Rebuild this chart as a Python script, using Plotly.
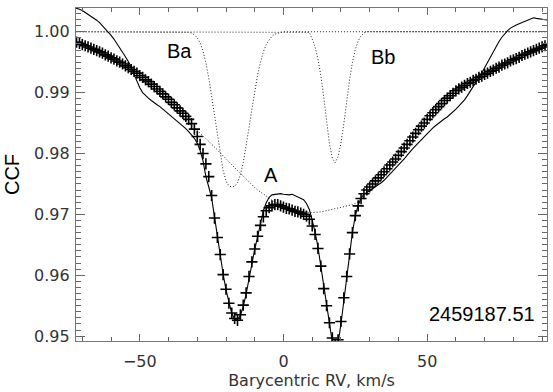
import plotly.graph_objects as go

# ---- data ----
model_rv = list(range(-72, 93))
model_ccf = [
    0.9983, 0.9981, 0.9979, 0.9977, 0.9975, 0.9973, 0.9971, 0.9969, 0.9967, 0.9965,
    0.9962, 0.9960, 0.9957, 0.9955, 0.9952, 0.9950, 0.9947, 0.9944, 0.9941, 0.9938,
    0.9935, 0.9932, 0.9928, 0.9925, 0.9921, 0.9918, 0.9914, 0.9910, 0.9906, 0.9902,
    0.9898, 0.9893, 0.9889, 0.9884, 0.9880, 0.9875, 0.9870, 0.9866, 0.9861, 0.9856,
    0.9849, 0.9840, 0.9828, 0.9815, 0.9800, 0.9783, 0.9762, 0.9731, 0.9694, 0.9662,
    0.9634, 0.9601, 0.9577, 0.9554, 0.9538, 0.9529, 0.9526, 0.9535, 0.9551, 0.9571,
    0.9598, 0.9622, 0.9643, 0.9664, 0.9682, 0.9696, 0.9706, 0.9711, 0.9714, 0.9716,
    0.9716, 0.9714, 0.9712, 0.9710, 0.9709, 0.9707, 0.9705, 0.9704, 0.9702, 0.9700,
    0.9697, 0.9692, 0.9681, 0.9667, 0.9644, 0.9615, 0.9578, 0.9550, 0.9522, 0.9497,
    0.9486, 0.9494, 0.9524, 0.9563, 0.9598, 0.9635, 0.9670, 0.9698, 0.9714, 0.9726,
    0.9734, 0.9740, 0.9745, 0.9750, 0.9755, 0.9760, 0.9765, 0.9770, 0.9775, 0.9781,
    0.9786, 0.9791, 0.9797, 0.9803, 0.9809, 0.9815, 0.9821, 0.9827, 0.9833, 0.9839,
    0.9845, 0.9850, 0.9856, 0.9862, 0.9867, 0.9872, 0.9877, 0.9882, 0.9887, 0.9891,
    0.9895, 0.9899, 0.9903, 0.9906, 0.9909, 0.9912, 0.9915, 0.9917, 0.9920, 0.9922,
    0.9925, 0.9927, 0.9930, 0.9932, 0.9935, 0.9937, 0.9940, 0.9942, 0.9945, 0.9947,
    0.9949, 0.9952, 0.9954, 0.9956, 0.9958, 0.9961, 0.9963, 0.9965, 0.9967, 0.9969,
    0.9971, 0.9973, 0.9975, 0.9977, 0.9979,
]

obs_rv = list(range(-73, 93))
obs_ccf = [
    1.0040, 1.0039, 1.0037, 1.0035, 1.0032, 1.0029, 1.0026, 1.0022, 1.0019, 1.0015,
    1.0010, 1.0004, 0.9999, 0.9994, 0.9988, 0.9981, 0.9975, 0.9967, 0.9959, 0.9951,
    0.9942, 0.9930, 0.9918, 0.9908, 0.9900, 0.9895, 0.9891, 0.9887, 0.9883, 0.9880,
    0.9877, 0.9873, 0.9870, 0.9866, 0.9862, 0.9858, 0.9854, 0.9850, 0.9845, 0.9841,
    0.9836, 0.9831, 0.9825, 0.9817, 0.9805, 0.9788, 0.9762, 0.9745, 0.9727, 0.9696,
    0.9663, 0.9632, 0.9602, 0.9576, 0.9554, 0.9537, 0.9528, 0.9527, 0.9534, 0.9549,
    0.9569, 0.9594, 0.9620, 0.9643, 0.9663, 0.9683, 0.9706, 0.9719, 0.9728, 0.9732,
    0.9733, 0.9734, 0.9734, 0.9733, 0.9732, 0.9732, 0.9733, 0.9731, 0.9729, 0.9727,
    0.9724, 0.9718, 0.9708, 0.9690, 0.9671, 0.9646, 0.9614, 0.9578, 0.9546, 0.9515,
    0.9490, 0.9478, 0.9488, 0.9520, 0.9560, 0.9598, 0.9636, 0.9671, 0.9698, 0.9715,
    0.9727, 0.9733, 0.9736, 0.9739, 0.9742, 0.9745, 0.9749, 0.9752, 0.9756, 0.9761,
    0.9766, 0.9771, 0.9776, 0.9780, 0.9785, 0.9791, 0.9797, 0.9803, 0.9808, 0.9813,
    0.9818, 0.9823, 0.9828, 0.9833, 0.9838, 0.9842, 0.9846, 0.9850, 0.9853, 0.9857,
    0.9860, 0.9864, 0.9868, 0.9873, 0.9878, 0.9883, 0.9888, 0.9895, 0.9902, 0.9910,
    0.9917, 0.9925, 0.9932, 0.9941, 0.9950, 0.9959, 0.9968, 0.9976, 0.9984, 0.9991,
    0.9997, 1.0002, 1.0006, 1.0009, 1.0011, 1.0013, 1.0015, 1.0017, 1.0020, 1.0022,
    1.0023, 1.0022, 1.0021, 1.0021, 1.0020, 1.0019,
]

ba_rv = [-72] + list(range(-34, 1)) + [92]
ba_ccf = [1.0000,
    1.0000, 0.9999, 0.9998, 0.9995, 0.9990, 0.9982, 0.9968, 0.9949, 0.9924, 0.9894,
    0.9861, 0.9828, 0.9797, 0.9772, 0.9755, 0.9747, 0.9745, 0.9746, 0.9752, 0.9765,
    0.9785, 0.9811, 0.9842, 0.9873, 0.9903, 0.9929, 0.9950, 0.9967, 0.9979, 0.9987,
    0.9993, 0.9996, 0.9998, 0.9999, 1.0000,
    1.0000]

bb_rv = [-72] + list(range(8, 30)) + [92]
bb_ccf = [1.0000,
    1.0000, 0.9999, 0.9988, 0.9975, 0.9955, 0.9928, 0.9893, 0.9852, 0.9816, 0.9792,
    0.9785, 0.9795, 0.9817, 0.9849, 0.9886, 0.9921, 0.9950, 0.9971, 0.9985, 0.9993,
    0.9998, 1.0000,
    1.0000]

a_rv = list(range(-34, 29))
a_ccf = [
    0.9855, 0.9851, 0.9846, 0.9842, 0.9838, 0.9833, 0.9829, 0.9824, 0.9820, 0.9815,
    0.9811, 0.9806, 0.9801, 0.9796, 0.9791, 0.9786, 0.9781, 0.9777, 0.9772, 0.9767,
    0.9763, 0.9758, 0.9753, 0.9748, 0.9744, 0.9740, 0.9737, 0.9734, 0.9731, 0.9727,
    0.9723, 0.9720, 0.9717, 0.9715, 0.9713, 0.9711, 0.9710, 0.9708, 0.9707, 0.9706,
    0.9705, 0.9704, 0.9703, 0.9703, 0.9703, 0.9703, 0.9703, 0.9704, 0.9705, 0.9706,
    0.9707, 0.9708, 0.9710, 0.9711, 0.9712, 0.9713, 0.9714, 0.9715, 0.9716, 0.9718,
    0.9721, 0.9726, 0.9732,
]

labels = ["Ba", "Bb", "A"]
label_rv = [-36.1, 34.5, -4.3]
label_ccf = [0.9969, 0.9959, 0.9764]
jd_label = "2459187.51"

x_ticks = [-50, 0, 50]
y_ticks = [0.95, 0.96, 0.97, 0.98, 0.99, 1.00]
y_ticktext = ["0.95", "0.96", "0.97", "0.98", "0.99", "1.00"]

# ---- figure ----
fig = go.Figure()

dot = dict(color="#222", width=1, dash="1px,2px")
fig.add_trace(go.Scatter(x=ba_rv, y=ba_ccf, mode="lines", line=dot, hoverinfo="skip"))
fig.add_trace(go.Scatter(x=bb_rv, y=bb_ccf, mode="lines", line=dot, hoverinfo="skip"))
fig.add_trace(go.Scatter(x=a_rv, y=a_ccf, mode="lines", line=dot, hoverinfo="skip"))

fig.add_trace(go.Scatter(
    x=model_rv, y=model_ccf, mode="markers",
    marker=dict(symbol="cross-thin", size=8, color="black",
                line=dict(color="black", width=1.6)),
))
fig.add_trace(go.Scatter(x=obs_rv, y=obs_ccf, mode="lines",
                         line=dict(color="black", width=1.1)))

lab_font = dict(family="Liberation Sans, Arial, sans-serif", size=20, color="black")
for t, xv, yv in zip(labels, label_rv, label_ccf):
    fig.add_annotation(x=xv, y=yv, text=t, showarrow=False, font=lab_font,
                       xanchor="center", yanchor="middle")
fig.add_annotation(x=88.2, y=0.9537, text=jd_label, showarrow=False, font=lab_font,
                   xanchor="right", yanchor="middle")

tick_font = dict(family="DejaVu Sans, sans-serif", size=16, color="#333")
axis_common = dict(
    showline=True, linecolor="#777", linewidth=1.4, mirror="ticks",
    ticks="inside", tickcolor="#666", tickwidth=1,
    showgrid=False, zeroline=False, tickfont=tick_font,
)
fig.update_xaxes(
    range=[-72.2, 91.7], tickmode="array", tickvals=x_ticks,
    ticklen=7,
    minor=dict(ticks="inside", dtick=10, ticklen=4, tickcolor="#666", showgrid=False),
    title=dict(text="Barycentric RV, km/s",
               font=dict(family="DejaVu Sans, sans-serif", size=16, color="#333"),
               standoff=4),
    ticklabelstandoff=6,
    **axis_common,
)
fig.update_yaxes(
    range=[0.9492, 1.0039], tickmode="array", tickvals=y_ticks, ticktext=y_ticktext,
    ticklen=9,
    minor=dict(ticks="inside", dtick=0.001, tick0=0.95, ticklen=5, tickcolor="#666", showgrid=False),
    title=dict(text="CCF", font=dict(family="Liberation Sans, Arial, sans-serif", size=20, color="black"),
               standoff=8),
    ticklabelstandoff=2,
    **axis_common,
)
fig.update_layout(
    width=553, height=392,
    margin=dict(l=76, r=5, t=8, b=49),
    paper_bgcolor="white", plot_bgcolor="white",
    showlegend=False,
)
fig.write_html("out.html")
